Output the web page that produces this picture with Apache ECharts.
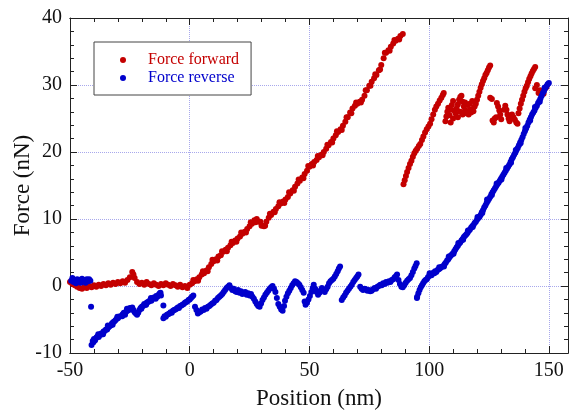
<!DOCTYPE html>
<html>
<head>
<meta charset="utf-8">
<script src="https://cdn.jsdelivr.net/npm/echarts/dist/echarts.min.js"></script>
<style>
  html, body { margin: 0; padding: 0; background: #fff; }
  #chart { width: 569px; height: 411px; }
</style>
</head>
<body>
<div id="chart"></div>
<script>
// [position nm, force nN], one array per stretch of the trace
const forwardFlat = [
  [-50, 0.6], [-49, 0.3], [-48, 0.1], [-47, -0.1], [-46, -0.3], [-45, -0.4], [-44, -0.2], [-43, -0.3],
  [-42, 0], [-41, -0.2], [-40, 0.1], [-39, -0.1], [-38, 0.2], [-37, 0], [-36, 0.3], [-35, 0.1],
  [-34, 0.4], [-33, 0.2], [-32, 0.5], [-31, 0.3], [-30, 0.6], [-29, 0.4], [-28, 0.7], [-27, 0.5],
  [-26, 0.9], [-25, 1.3], [-24, 2.1], [-23.5, 1.7], [-23, 1.2], [-22, 0.6], [-21, 0.3], [-20, 0.5],
  [-19, 0.2], [-18, 0.6], [-17, 0.3], [-16, 0.1], [-15, 0.4], [-14, 0.2], [-13, 0], [-12, 0.3],
  [-11, 0.1], [-10, 0.4], [-9, 0.2], [-8, 0], [-7, 0.3], [-6, 0.1], [-5, -0.1], [-4, 0.2],
  [-3, -0.2], [-2, 0], [-1, -0.3]
]
const forwardRise = [
  [0, 0.2], [1, 0.4], [2, 0.7], [3, 1.0], [4, 1.3], [5, 1.7], [6, 1.9], [7, 2.3], [8, 2.8], [9, 3.3],
  [10, 3.7], [11, 4.0], [12, 4.4], [13, 4.6], [14, 5.1], [15, 5.4], [16, 5.7], [17, 6.1], [18, 6.4],
  [19, 6.8], [20, 7.1], [21, 7.4], [22, 7.8], [23, 8.1], [24, 8.5], [25, 8.9], [26, 9.3], [27, 9.8],
  [28, 10.0], [29, 9.6], [30, 9.0], [31, 8.9], [32, 9.6], [33, 10.2], [34, 10.6], [35, 11.1],
  [36, 11.5], [37, 11.9], [38, 12.3], [39, 12.6], [40, 12.9], [41, 13.3], [42, 13.8], [43, 14.3],
  [44, 14.8], [45, 15.3], [46, 15.7], [47, 16.2], [48, 16.7], [49, 17.2], [50, 17.8], [51, 18.2],
  [52, 18.5], [53, 18.8], [54, 19.2], [55, 19.6], [56, 20.0], [57, 20.5], [58, 21.0], [59, 21.5],
  [60, 22.0], [61, 22.5], [62, 23.0], [63, 23.4], [64, 23.9], [65, 24.5], [66, 25.2], [67, 25.9],
  [68, 26.5], [69, 26.9], [70, 27.2], [71, 27.5], [72, 27.8], [73, 28.4], [74, 29.2], [75, 29.9],
  [76, 30.5], [77, 31.0], [78, 31.5], [79, 32.2], [80, 33.0], [81, 34.0], [82, 34.8], [83, 35.2],
  [84, 35.7], [85, 36.2], [86, 36.6], [87, 36.9], [88, 37.3], [89, 37.6]
]
// scatter on either side of the rising stretch (the band is a few points thick)
const forwardRiseSpread = [
  [1.5, 0.9], [3.5, 0.8], [5.5, 2.2], [7.5, 2.2], [9.5, 3.9], [11.5, 3.8], [13.5, 5.2], [15.5, 5.2],
  [17.5, 6.6], [19.5, 6.6], [21.5, 8.0], [23.5, 8.0], [25.5, 9.5], [27.5, 9.5], [29.5, 9.6],
  [31.5, 9.0], [33.5, 10.8], [35.5, 11.0], [37.5, 12.5], [39.5, 12.4], [41.5, 14.0], [43.5, 14.2],
  [45.5, 15.9], [47.5, 16.1], [49.5, 17.9], [51.5, 18.0], [53.5, 19.4], [55.5, 19.5], [57.5, 21.1],
  [59.5, 21.4], [61.5, 23.1], [63.5, 23.3], [65.5, 25.2], [67.5, 25.8], [69.5, 27.4], [71.5, 27.4],
  [73.5, 29.2], [75.5, 29.9], [77.5, 31.6], [79.5, 32.3], [81.5, 34.8], [83.5, 35.1], [85.5, 36.7],
  [87.5, 36.8]
]
const forwardJump = [
  [89.3, 15.2], [89.8, 15.8], [90.3, 16.4], [90.8, 17.0], [91.4, 17.6], [92, 18.2], [92.6, 18.7],
  [93.2, 19.3], [93.8, 19.8], [94.4, 20.2], [95, 20.5], [95.7, 20.9], [96.3, 21.2], [97, 21.8],
  [97.6, 22.3], [98.3, 22.9], [99, 23.4], [99.7, 23.8], [100.4, 24.2], [101, 24.9], [101.7, 25.6],
  [102.4, 26.3], [103, 26.8], [103.7, 27.2], [104.4, 27.7], [105.1, 28.1], [105.7, 28.5], [106.1, 28.8]
]
const forwardCluster = [
  [106.8, 24.6], [107.2, 25.3], [107.6, 26.0], [108, 26.6], [108.5, 25.5], [109, 26.3], [109.5, 27.0],
  [110, 27.6], [110.5, 26.2], [111, 25.8], [111.5, 26.5], [112, 27.1], [112.5, 27.8], [113, 28.2],
  [113.5, 28.4], [114, 27.5], [114.5, 26.8], [115, 26.2], [115.5, 25.8], [116, 26.0], [116.5, 25.6],
  [117, 26.3], [117.5, 25.9], [118, 26.4], [118.5, 26.1], [119, 26.8], [119.5, 27.2], [120, 27.8],
  [120.5, 28.4], [121, 29.0], [121.5, 29.6], [122, 30.1], [122.5, 30.6], [123, 31.0], [123.5, 31.5],
  [124, 31.8], [124.5, 32.2], [125, 32.6], [125.5, 32.9],
  [109, 24.4], [110, 25.0], [112, 25.2], [113, 26.0], [114, 25.6], [115, 27.4], [116, 27.0],
  [117, 27.2], [118, 27.6]
]
const forwardSteps = [
  [125.5, 28.1], [126.2, 27.9], [126.5, 24.7], [127, 24.4], [127.4, 25.0], [128, 25.2], [128.3, 27.3],
  [128.8, 26.8], [129.3, 26.2], [129.7, 25.6], [130.1, 24.9], [131.3, 26.3], [131.8, 26.9],
  [132.3, 26.3], [132.7, 25.6], [133.2, 25.0], [133.6, 24.6], [134.6, 25.6], [135.2, 25.2],
  [135.8, 24.8], [136.4, 24.4], [136.9, 24.2]
]
const forwardEnd = [
  [137.3, 25.8], [137.8, 26.5], [138.3, 27.2], [138.8, 27.8], [139.3, 28.4], [139.8, 29.0],
  [140.3, 29.5], [140.8, 29.9], [141.3, 30.4], [141.8, 30.9], [142.3, 31.3], [142.8, 31.7],
  [143.3, 32.1], [143.8, 32.4], [144.3, 32.7],
  [144.3, 29.5], [145, 30.0], [145.7, 28.8], [146.3, 29.2], [147.1, 29.0], [147.8, 28.7],
  [148.5, 29.5], [149, 29.7]
]

const reverseStart = [
  [-49.5, 0.8], [-49, 1.2], [-48.5, 0.6], [-48, 0.9], [-47.5, 0.4], [-47, 1.0], [-46.5, 0.6],
  [-46, 0.9], [-45.5, 0.5], [-45, 1.1], [-44.5, 0.7], [-44, 0.9], [-43.5, 0.5], [-43, 1.0],
  [-42.5, 0.7], [-42, 1.0], [-41.5, 0.8], [-41.2, -3.1]
]
const reverseSlope = [
  [-41, -8.8], [-40.5, -8.2], [-40, -7.9], [-39.5, -8.1], [-39, -7.7], [-38.5, -7.5], [-38, -7.6],
  [-37.5, -7.3], [-37, -7.1], [-36.5, -7.2], [-36, -6.8], [-35.5, -6.7], [-35, -6.5], [-34.5, -6.5],
  [-34, -6.2], [-33.5, -6.0], [-33, -5.9], [-32.5, -5.6], [-32, -5.4], [-31.5, -5.3], [-31, -5.1],
  [-30.5, -4.9], [-30, -4.8], [-29.5, -4.6], [-29, -4.5], [-28, -4.2], [-27.5, -4.0], [-27, -4.3],
  [-26.5, -3.8], [-26, -3.7], [-25.5, -3.6], [-25, -3.3], [-24.5, -3.4], [-24, -3.2], [-23.5, -3.6],
  [-23, -3.9], [-22.5, -4.1], [-22, -4.3], [-21.5, -4.0], [-21, -3.6], [-20.5, -3.3], [-20, -3.1],
  [-19.5, -3.0], [-19, -2.7], [-18.5, -2.8], [-18, -2.5], [-17.5, -2.4], [-17, -2.3], [-16.5, -2.1],
  [-16, -2.2], [-15.5, -1.9], [-15, -1.7], [-14.5, -1.8], [-14, -1.5], [-13.5, -1.6], [-13, -1.3],
  [-12.5, -1.1], [-12, -1.4], [-11, -2.9],
  [-40.2, -8.4], [-38.2, -7.2], [-36.2, -7.2], [-34.2, -5.9], [-32.2, -5.8], [-30.2, -4.6],
  [-28.2, -4.5], [-26.2, -3.4], [-24.2, -3.5], [-20.2, -3.4], [-18.2, -2.8], [-16.2, -1.8],
  [-14.2, -1.9], [-12.2, -1.0]
]
const reverseMid = [
  [-11, -4.8], [-10.5, -4.5], [-10, -4.6], [-9.5, -4.3], [-9, -4.2], [-8.5, -4.1], [-8, -3.9],
  [-7.5, -4.0], [-7, -3.7], [-6.5, -3.6], [-6, -3.5], [-5.5, -3.4], [-5, -3.2], [-4.5, -3.3],
  [-4, -3.0], [-3.5, -2.9], [-3, -2.8], [-2.5, -2.7], [-2, -2.5], [-1.5, -2.4], [-1, -2.3],
  [-0.5, -2.1], [0, -2.0], [0.5, -1.8], [1, -1.6], [1.5, -1.4]
]
const reverseSaw = [
  [2.2, -3.1], [2.8, -3.6], [3.4, -4.1], [4, -3.9], [4.6, -3.8], [5.2, -3.5], [5.8, -3.6], [6.4, -3.3],
  [7, -3.4], [7.6, -3.1], [8.2, -3.0], [8.8, -2.8], [9.4, -2.6], [10, -2.5], [10.6, -2.2], [11.2, -2.1],
  [11.8, -1.8], [12.4, -1.6], [13, -1.4], [13.6, -1.2], [14.2, -0.9], [14.8, -0.6], [15.4, -0.3],
  [16, -0.1], [16.6, 0.1], [17.2, -0.3], [17.8, -0.6], [18.4, -0.4], [19, -0.8], [19.6, -0.9],
  [20.2, -0.6], [20.8, -1.0], [21.4, -0.8], [22, -1.2], [22.6, -1.0], [23.2, -0.9], [23.8, -1.3],
  [24.4, -1.1], [25, -1.4], [25.6, -1.2], [26.2, -1.6], [26.8, -1.9], [27.4, -2.3], [28, -2.7],
  [28.6, -3.0], [29.2, -3.1], [29.8, -2.6], [30.4, -2.1], [31, -1.7], [31.6, -1.3], [32.2, -1.0],
  [32.8, -0.7], [33.4, -0.4], [34, -0.2], [34.6, 0],
  [35.2, -0.4], [35.8, -0.9], [36.4, -1.8], [37, -2.7], [37.6, -3.1], [38.2, -3.5], [38.8, -3.7],
  [39.4, -3.0], [39.8, -2.2], [40.4, -1.6], [41, -1.1], [41.6, -0.7], [42.2, -0.3], [42.8, 0.1],
  [43.4, 0.4], [44, 0.7], [44.6, 0.6], [45.2, 0.4], [45.8, 0.2], [46.4, -0.2], [47, -0.6], [47.6, -1.0],
  [48, -2.3], [48.4, -2.8], [49, -2.5], [49.6, -2.0], [50.2, -1.5], [50.8, -0.9], [51.4, -0.3],
  [51.8, 0.2], [52.4, -0.4], [53, -0.9], [53.6, -1.3], [54.2, -1.0], [54.8, -0.6], [55.2, -0.3],
  [55.8, -0.6], [56.4, -0.9], [57, -0.5], [57.6, -0.1], [58.2, 0.4], [58.8, 0.7], [59.4, 0.9],
  [60, 1.1], [60.6, 1.4], [61.2, 1.8], [61.8, 2.2], [62.3, 2.6], [62.8, 2.9], [63.5, -2.1],
  [64.1, -1.7], [64.7, -1.4], [65.3, -1.0], [65.9, -0.7], [66.5, -0.4], [67.1, -0.1], [67.7, 0.2],
  [68.3, 0.6], [68.9, 0.9], [69.5, 1.2], [70, 1.4], [70.5, 1.7], [71.2, -0.1], [71.8, -0.4],
  [72.4, -0.6], [73, -0.4], [73.6, -0.5], [74.2, -0.7], [74.8, -0.6], [75.4, -0.8], [76, -0.7],
  [76.6, -0.5], [77.2, -0.3], [77.8, -0.4], [78.4, -0.1], [79, 0.0], [79.6, 0.2], [80.2, 0.1],
  [80.8, 0.4], [81.4, 0.3], [82, 0.6], [82.6, 0.5], [83.2, 0.7], [83.8, 0.6], [84.4, 0.9], [85, 1.0],
  [85.6, 1.3], [86.2, 1.5], [86.6, 1.7], [87.2, 0.9], [87.8, 0.3], [88.4, -0.1], [89, -0.2],
  [89.6, 0.1], [90.2, 0.5], [90.8, 0.8], [91.4, 1.0], [92, 1.2], [92.6, 1.6], [93.2, 2.1],
  [93.8, 2.6], [94.3, 3.0], [94.8, 3.4]
]
const reverseRise = [
  [94.9, -1.8], [95.0, -1.6], [95.5, -1.1], [96, -0.6], [96.5, -0.2], [97, 0.1], [97.5, 0.4], [98, 0.7],
  [98.5, 0.9], [99, 1.0], [99.5, 1.3], [100, 1.5], [100.5, 1.7], [101, 1.6], [101.5, 1.9], [102, 2.0],
  [102.5, 2.2], [103, 2.1], [103.5, 2.4], [104, 2.5], [104.5, 2.6], [105, 2.8], [105.5, 2.9], [106, 3.0],
  [106.5, 3.3], [107, 3.5], [107.5, 3.8], [108, 4.0], [108.5, 4.3], [109, 4.5], [109.5, 4.7], [110, 4.9],
  [110.5, 5.2], [111, 5.5], [111.5, 5.8], [112, 6.0], [112.5, 6.3], [113, 6.5], [113.5, 6.8], [114, 7.0],
  [114.5, 7.3], [115, 7.5], [115.5, 7.7], [116, 7.9], [116.5, 8.2], [117, 8.4], [117.5, 8.7], [118, 8.9],
  [118.5, 9.1], [119, 9.4], [119.5, 9.6], [120, 9.9], [120.5, 10.1], [121, 10.3], [121.5, 10.6],
  [122, 11.0], [122.5, 11.3], [123, 11.7], [123.5, 12.0], [124, 12.4], [124.5, 12.7], [125, 13.0],
  [125.5, 13.3], [126, 13.7], [126.5, 14.0], [127, 14.3], [127.5, 14.6], [128, 14.9], [128.5, 15.2],
  [129, 15.4], [129.5, 15.7], [130, 16.0], [130.5, 16.3], [131, 16.6], [131.5, 16.9], [132, 17.2],
  [132.5, 17.5], [133, 17.8], [133.5, 18.1], [134, 18.5], [134.5, 18.9], [135, 19.2], [135.5, 19.6],
  [136, 19.9], [136.5, 20.3], [137, 20.6], [137.5, 21.0], [138, 21.4], [138.5, 21.8], [139, 22.2],
  [139.5, 22.7], [140, 23.1], [140.5, 23.5], [141, 23.9], [141.5, 24.4], [142, 24.8], [142.5, 25.2],
  [143, 25.6], [143.5, 25.9], [144, 26.2], [144.5, 26.6], [145, 26.9], [145.5, 27.3], [146, 27.6],
  [146.5, 28.0], [147, 28.4], [147.5, 28.8], [148, 29.1], [148.5, 29.5], [149, 29.8], [149.5, 30.1],
  [150, 30.3]
]
const reverseRiseSpread = [
  [100.2, 1.9], [102.2, 1.9], [104.2, 2.8], [106.2, 2.9], [108.2, 4.4], [110.2, 4.8], [112.2, 6.4],
  [114.2, 6.9], [116.2, 8.3], [118.2, 8.8], [120.2, 10.3], [122.2, 10.9], [124.2, 12.9], [126.2, 13.6],
  [128.2, 15.3], [130.2, 15.9], [132.2, 17.6], [134.2, 18.4], [136.2, 20.3], [138.2, 21.3],
  [140.2, 23.6], [142.2, 24.7], [144.2, 26.7], [146.2, 27.5], [148.2, 29.6]
]

const seriesNames = ['Force forward', 'Force reverse']
const xTicks = { min: -50, max: 158, major: 50, minor: 10 }
const yTicks = { min: -10, max: 40, major: 10 }

const red = '#c40000'
const blue = '#0000cc'
const frame = '#222'
const serif = '"Liberation Serif", "Times New Roman", serif'

const chart = echarts.init(document.getElementById('chart'))

function xAxisPart(position, interval, tickLen, withLabels) {
  return {
    type: 'value',
    position: position,
    min: xTicks.min,
    max: xTicks.max,
    interval: interval,
    axisLine: { show: true, onZero: false, lineStyle: { color: frame, width: 1 } },
    axisTick: { show: true, inside: true, length: tickLen, lineStyle: { color: frame } },
    axisLabel: {
      show: withLabels,
      showMaxLabel: false,
      margin: 8,
      color: '#111',
      fontFamily: serif,
      fontSize: 20
    },
    splitLine: {
      show: withLabels && position === 'bottom',
      lineStyle: { color: '#a8a8ec', type: 'dotted', width: 1 }
    },
    name: withLabels && position === 'bottom' ? 'Position (nm)' : '',
    nameLocation: 'middle',
    nameGap: 34,
    nameMoveOverlap: false,
    nameTextStyle: { color: '#111', fontFamily: serif, fontSize: 23 }
  }
}

function yAxisPart(position, withLabels) {
  return {
    type: 'value',
    position: position,
    min: yTicks.min,
    max: yTicks.max,
    interval: yTicks.major,
    axisLine: { show: true, onZero: false, lineStyle: { color: frame, width: 1 } },
    axisTick: { show: true, inside: true, length: 7, lineStyle: { color: frame } },
    minorTick: { show: true, splitNumber: 5, length: 4, lineStyle: { color: frame } },
    axisLabel: {
      show: withLabels,
      margin: 8,
      color: '#111',
      fontFamily: serif,
      fontSize: 20
    },
    splitLine: {
      show: withLabels,
      lineStyle: { color: '#a8a8ec', type: 'dotted', width: 1 }
    },
    name: withLabels ? 'Force (nN)' : '',
    nameLocation: 'middle',
    nameGap: 36,
    nameMoveOverlap: false,
    nameTextStyle: { color: '#111', fontFamily: serif, fontSize: 23 }
  }
}

chart.setOption({
  animation: false,
  backgroundColor: '#fff',
  grid: { left: 70, right: 1, top: 18, bottom: 58, outerBoundsMode: 'none' },
  xAxis: [
    xAxisPart('bottom', xTicks.major, 7, true),
    xAxisPart('bottom', xTicks.minor, 4, false),
    xAxisPart('top', xTicks.major, 7, false),
    xAxisPart('top', xTicks.minor, 4, false)
  ],
  yAxis: [
    yAxisPart('left', true),
    yAxisPart('right', false)
  ],
  legend: {
    orient: 'vertical',
    left: 94,
    top: 42,
    padding: [10, 12, 9, 26],
    itemGap: 2,
    itemWidth: 40,
    itemHeight: 6,
    icon: 'circle',
    borderColor: '#444',
    borderWidth: 1,
    backgroundColor: '#fff',
    data: [
      { name: seriesNames[0], textStyle: { color: red } },
      { name: seriesNames[1], textStyle: { color: blue } }
    ],
    textStyle: { fontFamily: serif, fontSize: 16 }
  },
  series: [
    {
      name: seriesNames[0],
      type: 'scatter',
      symbolSize: 6,
      itemStyle: { color: red, opacity: 1 },
      data: forwardFlat.concat(forwardRise, forwardRiseSpread, forwardJump, forwardCluster, forwardSteps, forwardEnd)
    },
    {
      name: seriesNames[1],
      type: 'scatter',
      symbolSize: 6,
      itemStyle: { color: blue, opacity: 1 },
      data: reverseStart.concat(reverseSlope, reverseMid, reverseSaw, reverseRise, reverseRiseSpread)
    }
  ]
})
</script>
</body>
</html>
